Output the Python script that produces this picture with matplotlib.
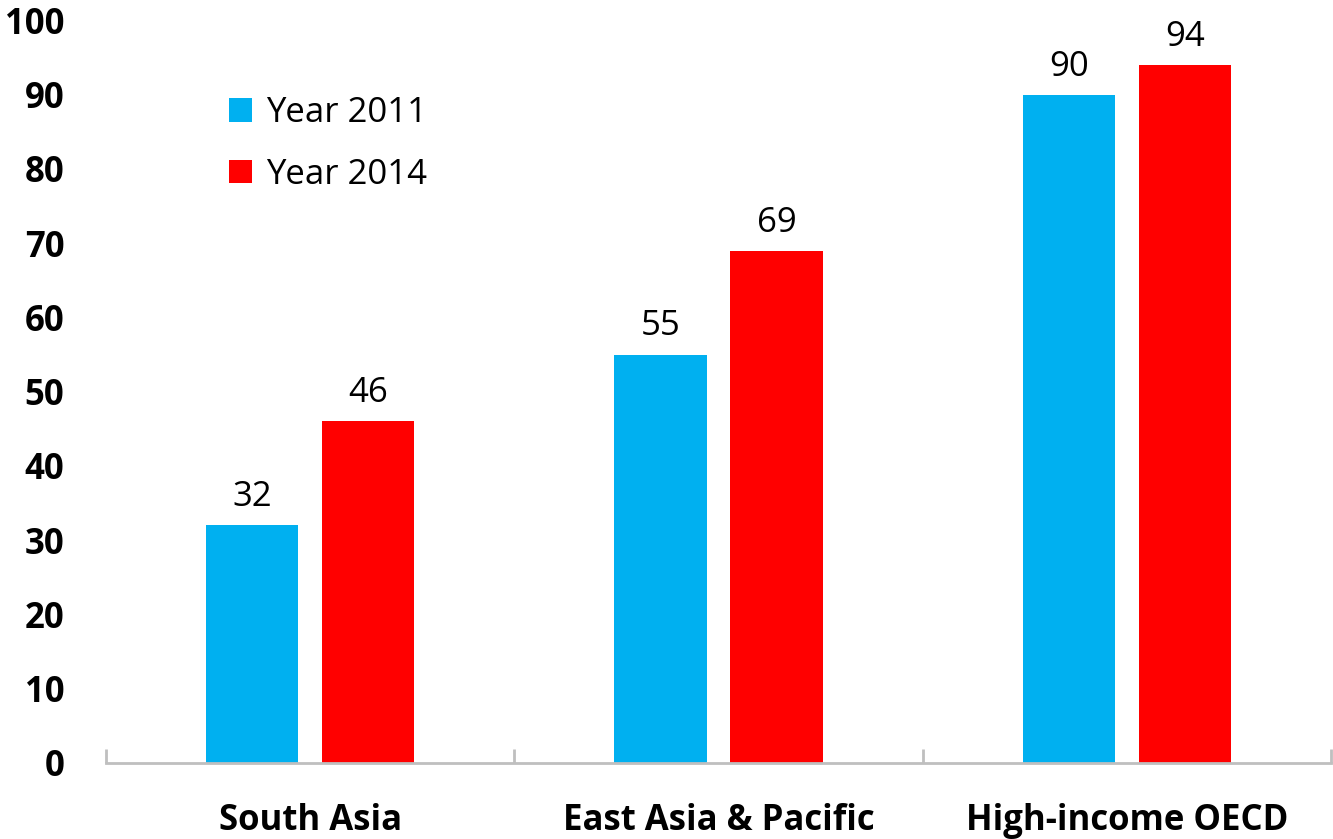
import matplotlib.pyplot as plt
import numpy as np

plt.rcParams['font.family'] = ['Open Sans', 'DejaVu Sans']

regions = ['South Asia', 'East Asia & Pacific', 'High-income OECD']
year_2011 = [32, 55, 90]
year_2014 = [46, 69, 94]
series_names = ['Year 2011', 'Year 2014']
colors = ['#00B0F0', '#FF0000']

fig = plt.figure(figsize=(13.33, 8.39), dpi=100)
ax = fig.add_axes([0.0795, 0.0906, 0.919, 0.885])

x = np.arange(len(regions))
w = 0.2255
off = 0.142
b1 = ax.bar(x - off, year_2011, w, color=colors[0], label=series_names[0])
b2 = ax.bar(x + off, year_2014, w, color=colors[1], label=series_names[1])

for bars in (b1, b2):
    for rect in bars:
        h = rect.get_height()
        ax.annotate(f'{h:.0f}', (rect.get_x() + rect.get_width() / 2, h),
                    xytext=(0, 8), textcoords='offset points',
                    ha='center', va='bottom', fontsize=25)

ax.set_xlim(-0.5, 2.5)
ax.set_ylim(0, 100)
ax.set_yticks(range(0, 101, 10))
ax.set_yticklabels([str(v) for v in range(0, 101, 10)],
                   fontsize=25, fontweight='bold')
ax.tick_params(axis='y', length=0, pad=30)

# category labels centered, tick marks between groups
ax.set_xticks(x)
ax.set_xticklabels(regions, fontsize=25, fontweight='bold')
ax.tick_params(axis='x', which='major', length=0, pad=29)
ax.set_xticks([-0.5, 0.5, 1.5, 2.5], minor=True)
ax.tick_params(axis='x', which='minor', direction='in', length=10,
               width=2, color='#BFBFBF')

for s in ['top', 'right', 'left']:
    ax.spines[s].set_visible(False)
ax.spines['bottom'].set_color('#BFBFBF')
ax.spines['bottom'].set_linewidth(2)

ax.legend(loc='upper left', bbox_to_anchor=(0.075, 0.94), frameon=False,
          fontsize=25, handlelength=0.65, handleheight=0.65,
          handletextpad=0.4, labelspacing=0.8)

fig.savefig('out.png')
